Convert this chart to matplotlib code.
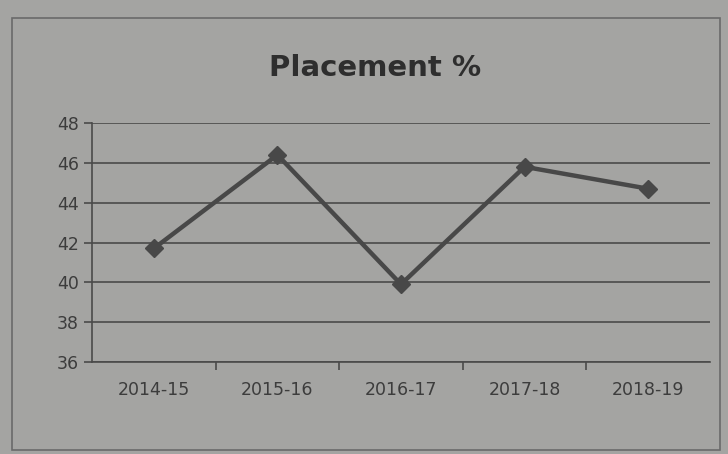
import matplotlib.pyplot as plt

anos = ['2014-15', '2015-16', '2016-17', '2017-18', '2018-19']
placement = [41.7, 46.4, 39.9, 45.8, 44.7]
y_ticks = [36, 38, 40, 42, 44, 46, 48]

fundo = '#a4a4a2'
tinta = '#3c3c3c'

fig = plt.figure(figsize=(7.28, 4.54), dpi=100, facecolor=fundo)
ax = fig.add_axes([92 / 728, 1 - 362 / 454, 618 / 728, 239 / 454], facecolor=fundo)

ax.plot(range(len(anos)), placement, color='#484848', linewidth=3.2,
        marker='D', markersize=9, markerfacecolor='#484848', markeredgecolor='#484848')

ax.set_ylim(36, 48)
ax.set_xlim(-0.5, len(anos) - 0.5)
ax.set_yticks(y_ticks)
ax.yaxis.grid(True, color='#4a4a4a', linewidth=1.2)
ax.set_axisbelow(True)

ax.set_xticks(range(len(anos)))
ax.set_xticklabels(anos)
ax.set_xticks([i + 0.5 for i in range(len(anos) - 1)], minor=True)
ax.tick_params(axis='x', which='major', length=0, pad=14, labelsize=12.5, colors=tinta)
ax.tick_params(axis='x', which='minor', length=6, width=1.2, color='#4a4a4a')
ax.tick_params(axis='y', length=6, width=1.2, color='#4a4a4a', labelsize=12.5, labelcolor=tinta)

for lado in ['top', 'right']:
    ax.spines[lado].set_visible(False)
ax.spines['left'].set_color('#4a4a4a')
ax.spines['bottom'].set_color('#4a4a4a')
ax.spines['left'].set_linewidth(1.2)
ax.spines['bottom'].set_linewidth(1.2)

fig.text(375 / 728, 1 - 68 / 454, 'Placement %', ha='center', va='center',
         fontsize=21, fontweight='bold', color='#2e2e2e')

# moldura do grafico
moldura = plt.Rectangle((12 / 728, 1 - 450 / 454), 708 / 728, 432 / 454,
                        transform=fig.transFigure, fill=False, edgecolor='#6a6a6a', linewidth=1.2)
fig.patches.append(moldura)

plt.savefig('out.png', dpi=100, facecolor=fundo)
